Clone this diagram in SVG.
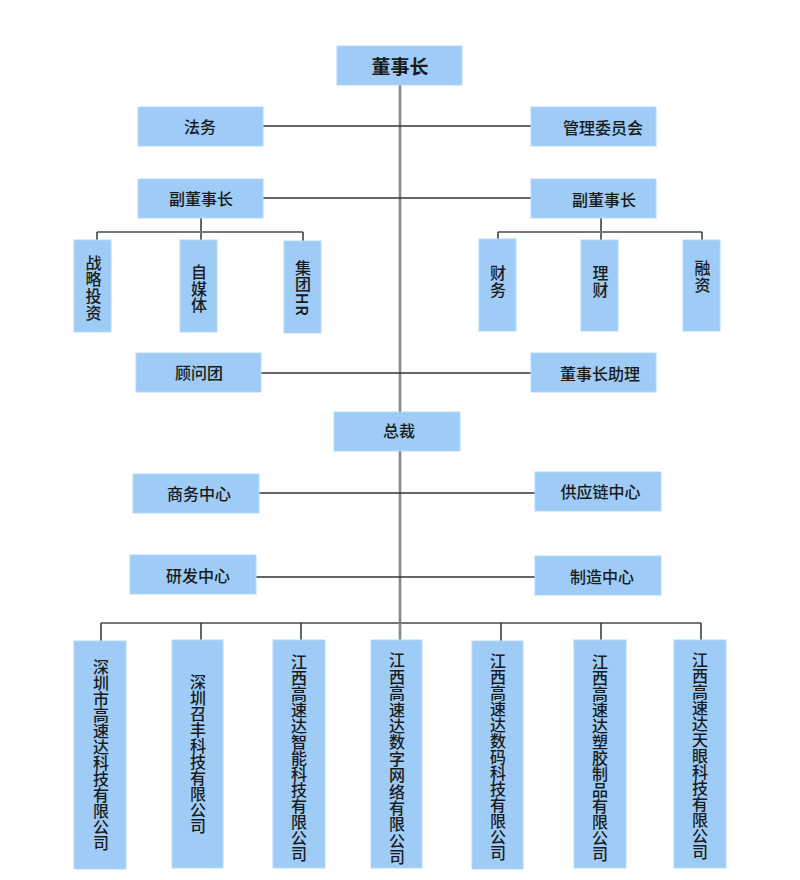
<svg xmlns="http://www.w3.org/2000/svg" width="800" height="880" viewBox="0 0 800 880">
<style>
.box{fill:#9ECCF6;stroke:#B3D8FA;stroke-width:1}
.t{font-family:"Noto Sans CJK SC","Liberation Sans",sans-serif;font-size:16px;font-weight:500;fill:#1a1a1a;text-anchor:middle;dominant-baseline:central}
.big{font-size:19px;font-weight:bold}
.v{font-family:"Noto Sans CJK SC","Liberation Sans",sans-serif;font-size:16px;font-weight:500;fill:#1a1a1a;text-anchor:middle;writing-mode:vertical-rl}
.s{letter-spacing:0.6px}
.main{stroke:#888;stroke-width:2.6;fill:none}
.h{stroke:#333;stroke-width:1.5;fill:none}
.g{stroke:#777;stroke-width:2;fill:none}
</style>
<rect width="800" height="880" fill="#fff"/>
<g id="connectors">
<line class="main" x1="400" y1="85" x2="400" y2="640"/>
<line class="h" x1="263" y1="126" x2="531" y2="126"/>
<line class="h" x1="263" y1="198" x2="531" y2="198"/>
<line class="h" x1="201" y1="218" x2="201" y2="240"/>
<line class="g" x1="97" y1="232" x2="303" y2="232"/>
<line class="h" x1="97" y1="232" x2="97" y2="240"/>
<line class="h" x1="303" y1="232" x2="303" y2="241"/>
<line class="h" x1="601" y1="218" x2="601" y2="240"/>
<line class="g" x1="498" y1="232" x2="702" y2="232"/>
<line class="h" x1="498" y1="232" x2="498" y2="239"/>
<line class="h" x1="702" y1="232" x2="702" y2="240"/>
<line class="h" x1="260" y1="373" x2="531" y2="373"/>
<line class="h" x1="259" y1="493" x2="535" y2="493"/>
<line class="h" x1="256" y1="577" x2="535" y2="577"/>
<line class="g" x1="101" y1="623" x2="701" y2="623"/>
<line class="h" x1="101" y1="623" x2="101" y2="641"/>
<line class="h" x1="201" y1="623" x2="201" y2="640"/>
<line class="h" x1="301" y1="623" x2="301" y2="640"/>
<line class="h" x1="501" y1="623" x2="501" y2="641"/>
<line class="h" x1="601" y1="623" x2="601" y2="640"/>
<line class="h" x1="701" y1="623" x2="701" y2="640"/>
</g>
<g id="chairman"><rect class="box" x="337" y="46" width="125" height="39"/><text class="t big" x="400" y="65">董事长</text></g>
<g id="legal"><rect class="box" x="138" y="107" width="125" height="39"/><text class="t" x="200" y="126">法务</text></g>
<g id="committee"><rect class="box" x="531" y="107" width="125" height="39"/><text class="t" x="603" y="127">管理委员会</text></g>
<g id="vice-left"><rect class="box" x="138" y="179" width="125" height="39"/><text class="t" x="201" y="198">副董事长</text></g>
<g id="vice-right"><rect class="box" x="531" y="179" width="125" height="39"/><text class="t" x="604" y="199">副董事长</text></g>
<g id="strategy"><rect class="box" x="74" y="240" width="37" height="92"/><text class="v s" x="93.5" y="288">战略投资</text></g>
<g id="media"><rect class="box" x="180" y="240" width="37" height="92"/><text class="v s" x="199" y="289">自媒体</text></g>
<g id="hr"><rect class="box" x="284" y="241" width="37" height="92"/><text class="v s" x="303" y="288">集团HR</text></g>
<g id="finance"><rect class="box" x="479" y="239" width="37" height="92"/><text class="v s" x="498" y="282">财务</text></g>
<g id="wealth"><rect class="box" x="581" y="240" width="37" height="91"/><text class="v s" x="600.5" y="282">理财</text></g>
<g id="financing"><rect class="box" x="683" y="240" width="37" height="91"/><text class="v s" x="702.5" y="277">融资</text></g>
<g id="advisors"><rect class="box" x="136" y="353" width="125" height="39"/><text class="t" x="199" y="372">顾问团</text></g>
<g id="assistant"><rect class="box" x="531" y="353" width="125" height="39"/><text class="t" x="600" y="373">董事长助理</text></g>
<g id="president"><rect class="box" x="334" y="412" width="126" height="39"/><text class="t" x="399" y="430">总裁</text></g>
<g id="business"><rect class="box" x="133" y="474" width="126" height="39"/><text class="t" x="199" y="493">商务中心</text></g>
<g id="supply"><rect class="box" x="535" y="472" width="126" height="39"/><text class="t" x="600.5" y="491">供应链中心</text></g>
<g id="rd"><rect class="box" x="130" y="555" width="126" height="39"/><text class="t" x="198" y="575">研发中心</text></g>
<g id="manufacturing"><rect class="box" x="535" y="556" width="126" height="39"/><text class="t" x="602" y="576">制造中心</text></g>
<g id="co1"><rect class="box" x="74" y="641" width="52" height="228"/><text class="v" x="101" y="755">深圳市高速达科技有限公司</text></g>
<g id="co2"><rect class="box" x="172" y="640" width="51" height="228"/><text class="v" x="198" y="754">深圳召丰科技有限公司</text></g>
<g id="co3"><rect class="box" x="273" y="640" width="52" height="228"/><text class="v" x="299" y="758">江西高速达智能科技有限公司</text></g>
<g id="co4"><rect class="box" x="371" y="640" width="51" height="228"/><text class="v" x="397" y="759" style="letter-spacing:0.4px">江西高速达数字网络有限公司</text></g>
<g id="co5"><rect class="box" x="472" y="641" width="51" height="228"/><text class="v" x="498" y="757">江西高速达数码科技有限公司</text></g>
<g id="co6"><rect class="box" x="574" y="640" width="52" height="228"/><text class="v" x="600" y="758">江西高速达塑胶制品有限公司</text></g>
<g id="co7"><rect class="box" x="674" y="640" width="52" height="228"/><text class="v" x="700" y="756">江西高速达天眼科技有限公司</text></g>
</svg>
